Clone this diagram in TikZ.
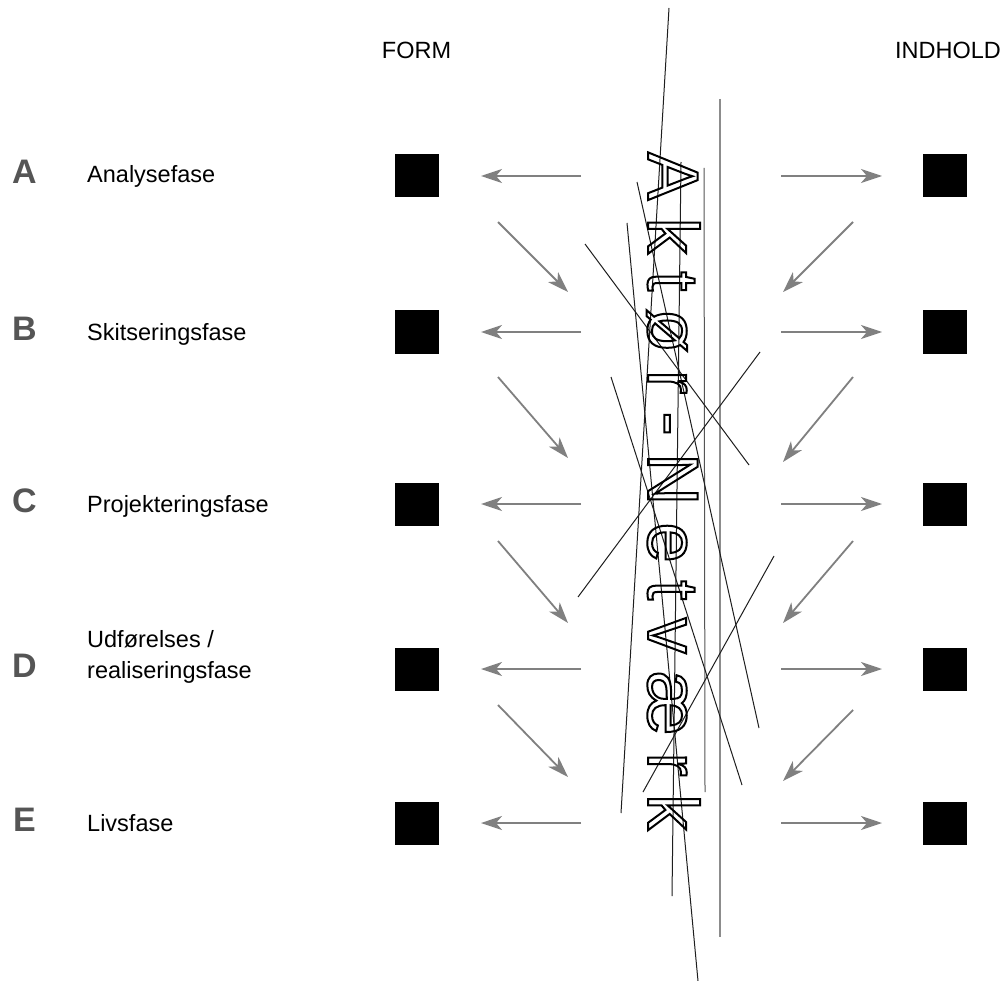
\documentclass[tikz,border=0pt]{standalone}
\usepackage{fontspec}
\setmainfont{Liberation Sans}
\usetikzlibrary{arrows.meta}
\definecolor{letgray}{RGB}{85,85,85}
\definecolor{arrgray}{RGB}{128,128,128}
\definecolor{vgray}{RGB}{140,140,140}
\definecolor{linecol}{RGB}{30,30,30}
\newcommand\lsp{\kern17.5pt}
\newcommand\outl[1]{\special{pdf:literal direct 1 Tr 2 w}#1\special{pdf:literal direct 0 Tr}}
\begin{document}
\begin{tikzpicture}[x=1pt,y=-1pt,
  sq/.style={fill=black,minimum width=44pt,minimum height=43pt,inner sep=0pt},
  lbl/.style={anchor=base west,font=\fontsize{23.5}{28}\selectfont,inner sep=0pt},
  big/.style={anchor=base,font=\fontsize{34}{40}\selectfont\bfseries,text=letgray,inner sep=0pt},
  hdr/.style={font=\fontsize{23.5}{28}\selectfont,inner sep=0pt},
  arr/.style={draw=arrgray,line width=1.8pt,-{Stealth[length=21pt,width=14pt,inset=6pt]}},
  thinline/.style={draw=linecol,line width=1pt}]
\fill[white] (0,0) rectangle (1003,981);
\useasboundingbox (0,0) rectangle (1003,981);

% headers
\node[hdr] (form) at (416.5,50) {FORM};
\node[hdr] (indhold) at (948,50) {INDHOLD};

% rows
\foreach \n/\y in {A/176,B/332,C/504,D/669,E/823}{
  \node[sq] (L\n) at (416.5,\y) {};
  \node[sq] (R\n) at (945,\y) {};
  \node[big] (letter\n) at (24.5,\y+8) {\n};
  \coordinate (lfrom\n) at (581,\y);
  \coordinate (lto\n) at (481,\y);
  \coordinate (rfrom\n) at (781,\y);
  \coordinate (rto\n) at (882,\y);
  \draw[arr] (lfrom\n) -- (lto\n);
  \draw[arr] (rfrom\n) -- (rto\n);
}

% phase labels
\node[lbl] (labA) at (87,183) {Analysefase};
\node[lbl] (labB) at (87,340) {Skitseringsfase};
\node[lbl] (labC) at (87,512) {Projekteringsfase};
\node[lbl] (labD1) at (87,647) {Udførelses /};
\node[lbl] (labD2) at (87,678) {realiseringsfase};
\node[lbl] (labE) at (87,831) {Livsfase};

% diagonal arrows
\foreach \i/\ya/\yb/\yc/\yd in {1/222/292/222/292, 2/377/458/377/462, 3/541/623/541/623, 4/705/777/710/781}{
  \coordinate (dls\i) at (498,\ya);
  \coordinate (dle\i) at (568,\yb);
  \coordinate (drs\i) at (853,\yc);
  \coordinate (dre\i) at (783,\yd);
  \draw[arr] (dls\i) -- (dle\i);
  \draw[arr] (drs\i) -- (dre\i);
}

% vertical lines
\draw[draw=vgray,line width=1.8pt] (720,99) -- (720,937);
\draw[draw=letgray,line width=1pt] (704,168) -- (705,792);

% thin crossing lines
\draw[thinline] (669,8) -- (621,813);
\draw[thinline] (681,162) -- (672,896);
\draw[thinline] (637,182) -- (759,728);
\draw[thinline] (627,223) -- (698,981);
\draw[thinline] (611,377) -- (742,785);
\draw[thinline] (585,244) -- (749,465);
\draw[thinline] (578,597) -- (760,352);
\draw[thinline] (774,556) -- (643,792);

% outlined vertical text
\node[anchor=base west,rotate=-90,inner sep=0pt,font=\fontsize{72}{80}\selectfont] (actor) at (648,152)
  {\outl{A\lsp k\lsp t\lsp ø\lsp r\lsp -\lsp N\lsp e\lsp t\lsp v\lsp æ\lsp r\lsp k}};
\end{tikzpicture}
\end{document}
